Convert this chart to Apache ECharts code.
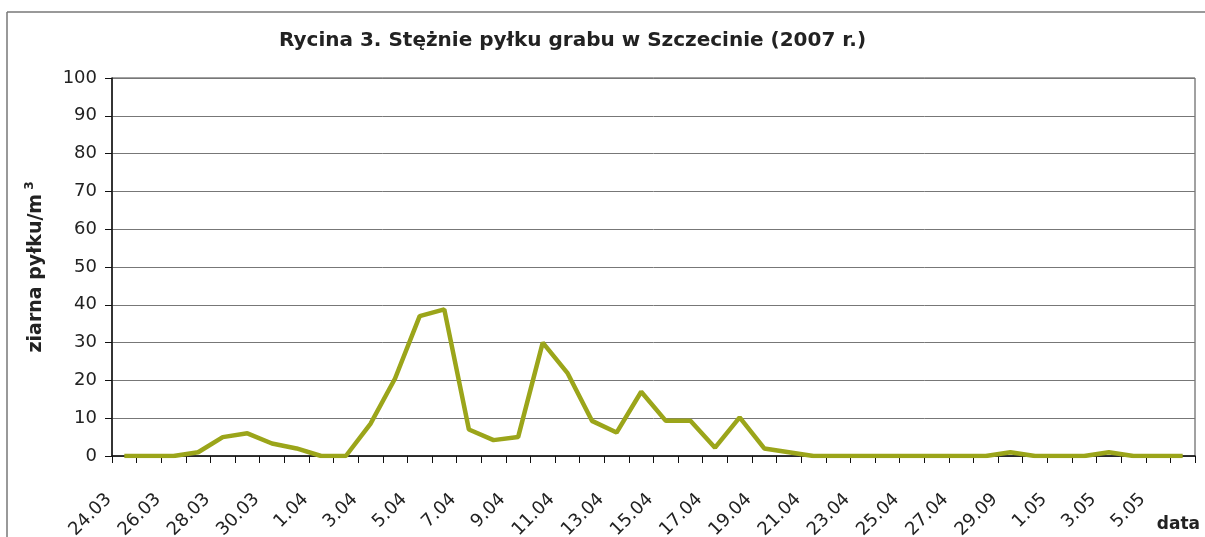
<!DOCTYPE html>
<html>
<head>
<meta charset="utf-8">
<script src="https://cdn.jsdelivr.net/npm/echarts@6/dist/echarts.min.js"></script>
<style>
  html, body { margin: 0; padding: 0; background: #fff; }
  #chart { width: 1205px; height: 537px; }
</style>
</head>
<body>
<div id="chart"></div>
<script>
// dni pomiarowe 24.03 - 6.05 (etykieta "29.09" jak w oryginale)
var days = [
  '24.03', '25.03', '26.03', '27.03', '28.03', '29.03', '30.03', '31.03',
  '1.04', '2.04', '3.04', '4.04', '5.04', '6.04', '7.04', '8.04', '9.04', '10.04',
  '11.04', '12.04', '13.04', '14.04', '15.04', '16.04', '17.04', '18.04', '19.04', '20.04',
  '21.04', '22.04', '23.04', '24.04', '25.04', '26.04', '27.04', '28.04', '29.09', '30.04',
  '1.05', '2.05', '3.05', '4.05', '5.05', '6.05'
];
// stężenie pyłku grabu [ziarna/m3]
var pollen = [
  0, 0, 0, 1, 5, 6, 3.3, 2,
  0, 0, 8.5, 20.5, 37, 38.8, 7, 4.2, 5, 30,
  22, 9.3, 6.2, 17, 9.3, 9.3, 2.2, 10.2, 2, 1,
  0, 0, 0, 0, 0, 0, 0, 0, 1, 0,
  0, 0, 1, 0, 0, 0
];
var yTicks = { min: 0, max: 100, step: 10 };

var font = 'DejaVu Sans, sans-serif';
var chart = echarts.init(document.getElementById('chart'));

chart.setOption({
  animation: false,
  backgroundColor: '#fff',
  title: {
    text: 'Rycina 3. Stężnie pyłku grabu w Szczecinie (2007 r.)',
    left: 274,
    top: 26,
    textStyle: { fontFamily: font, fontSize: 20, fontWeight: 'bold', color: '#222' }
  },
  graphic: [
    { type: 'line', shape: { x1: 7, y1: 12, x2: 1205, y2: 12 }, style: { stroke: '#777', lineWidth: 1.5 } },
    { type: 'line', shape: { x1: 7, y1: 12, x2: 7, y2: 537 }, style: { stroke: '#777', lineWidth: 1.5 } }
  ],
  grid: {
    left: 112, right: 10, top: 78, bottom: 81,
    containLabel: false,
    outerBoundsMode: 'none',
    show: true, borderColor: '#444', borderWidth: 1
  },
  xAxis: {
    type: 'category',
    data: days,
    boundaryGap: true,
    name: 'data',
    nameLocation: 'end',
    nameGap: 5,
    nameTextStyle: {
      fontFamily: font, fontSize: 17, fontWeight: 'bold', color: '#222',
      align: 'right', verticalAlign: 'top', padding: [60, 0, 0, 0]
    },
    axisLine: { lineStyle: { color: '#111', width: 1.5 } },
    axisTick: { show: true, interval: 0, length: 7, lineStyle: { color: '#111' } },
    axisLabel: {
      interval: 1,
      rotate: 45,
      margin: 25,
      padding: [0, 22, 0, 0],
      fontFamily: font,
      fontSize: 18,
      color: '#222'
    },
    splitLine: { show: false }
  },
  yAxis: {
    type: 'value',
    min: yTicks.min,
    max: yTicks.max,
    interval: yTicks.step,
    name: 'ziarna pyłku/m{sup|3}',
    nameLocation: 'middle',
    nameGap: 64,
    nameTextStyle: {
      fontFamily: font, fontSize: 19, fontWeight: 'bold', color: '#222',
      rich: {
        sup: { fontFamily: font, fontSize: 12, fontWeight: 'bold', color: '#222', verticalAlign: 'top', padding: [0, 0, 12, 4] }
      }
    },
    axisLine: { show: true, lineStyle: { color: '#111', width: 1.5 } },
    axisTick: { show: true, length: 7, lineStyle: { color: '#111' } },
    axisLabel: { margin: 15, fontFamily: font, fontSize: 18, color: '#222' },
    splitLine: { show: true, lineStyle: { color: '#777', width: 1 } }
  },
  series: [{
    type: 'line',
    data: pollen,
    symbol: 'none',
    lineStyle: { color: '#9ba51a', width: 4.5 },
    itemStyle: { color: '#9ba51a' }
  }]
});
</script>
</body>
</html>
